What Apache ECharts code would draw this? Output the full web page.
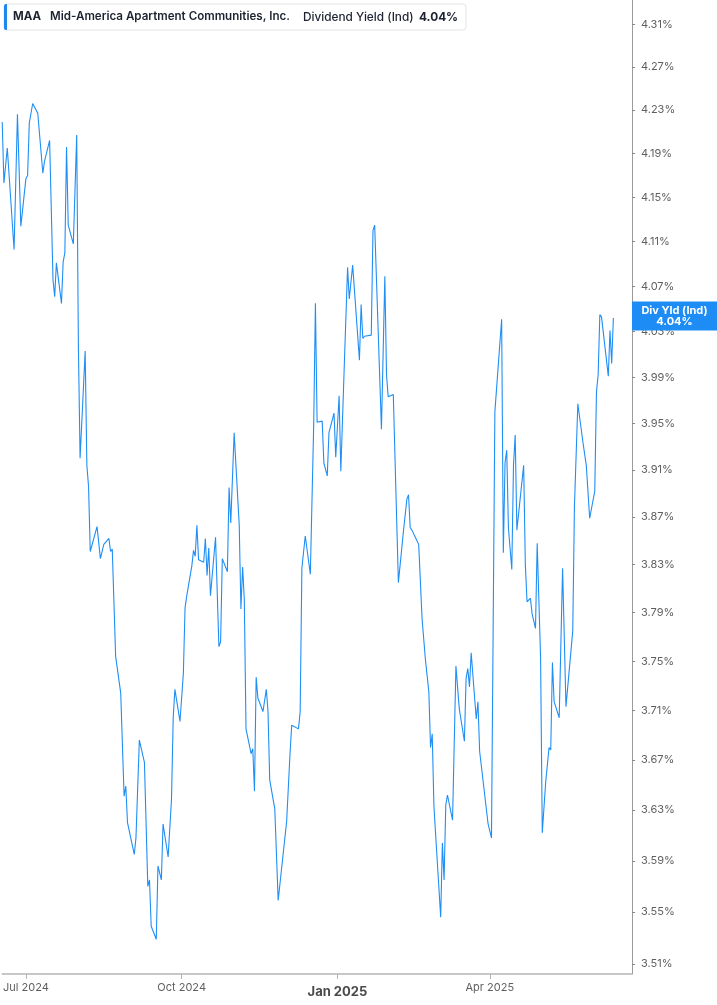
<!DOCTYPE html>
<html>
<head>
<meta charset="utf-8">
<script src="https://cdn.jsdelivr.net/npm/echarts@6/dist/echarts.min.js"></script>
<style>
html,body{margin:0;padding:0;background:#fff;}
#chart{width:717px;height:1005px;}
</style>
</head>
<body>
<div id="chart"></div>
<script>
const dates = [
'2024-06-17','2024-06-18','2024-06-20','2024-06-24','2024-06-26','2024-06-28','2024-07-01','2024-07-02','2024-07-03','2024-07-05',
'2024-07-08','2024-07-09','2024-07-11','2024-07-12','2024-07-15','2024-07-17','2024-07-18','2024-07-19','2024-07-22','2024-07-23',
'2024-07-24','2024-07-25','2024-07-26','2024-07-29','2024-07-31','2024-08-01','2024-08-02','2024-08-05','2024-08-06','2024-08-07',
'2024-08-08','2024-08-09','2024-08-12','2024-08-14','2024-08-15','2024-08-16','2024-08-19','2024-08-20','2024-08-21','2024-08-23',
'2024-08-26','2024-08-28','2024-08-29','2024-08-30','2024-09-03','2024-09-04','2024-09-06','2024-09-09','2024-09-11','2024-09-12',
'2024-09-13','2024-09-16','2024-09-17','2024-09-18','2024-09-19','2024-09-20','2024-09-23','2024-09-25','2024-09-26','2024-09-27',
'2024-09-30','2024-10-02','2024-10-03','2024-10-04','2024-10-07','2024-10-08','2024-10-09','2024-10-10','2024-10-11','2024-10-14',
'2024-10-15','2024-10-16','2024-10-17','2024-10-18','2024-10-21','2024-10-23','2024-10-24','2024-10-25','2024-10-28','2024-10-29',
'2024-10-30','2024-11-01','2024-11-04','2024-11-05','2024-11-06','2024-11-07','2024-11-08','2024-11-11','2024-11-12','2024-11-13',
'2024-11-14','2024-11-15','2024-11-18','2024-11-20','2024-11-21','2024-11-22','2024-11-25','2024-11-27','2024-12-02','2024-12-04',
'2024-12-05','2024-12-06','2024-12-09','2024-12-10','2024-12-11','2024-12-12','2024-12-13','2024-12-16','2024-12-18','2024-12-19',
'2024-12-20','2024-12-21','2024-12-23','2024-12-24','2024-12-26','2024-12-27','2024-12-30','2024-12-31','2025-01-02','2025-01-03',
'2025-01-05','2025-01-07','2025-01-08','2025-01-10','2025-01-14','2025-01-15','2025-01-16','2025-01-17','2025-01-21','2025-01-22',
'2025-01-23','2025-01-27','2025-01-29','2025-01-30','2025-01-31','2025-02-01','2025-02-03','2025-02-06','2025-02-09','2025-02-11',
'2025-02-12','2025-02-13','2025-02-14','2025-02-16','2025-02-18','2025-02-19','2025-02-20','2025-02-22','2025-02-24','2025-02-25',
'2025-02-26','2025-02-27','2025-03-01','2025-03-03','2025-03-04','2025-03-05','2025-03-06','2025-03-07','2025-03-10','2025-03-12',
'2025-03-13','2025-03-14','2025-03-17','2025-03-18','2025-03-19','2025-03-20','2025-03-21','2025-03-24','2025-03-25','2025-03-26',
'2025-03-31','2025-04-01','2025-04-02','2025-04-04','2025-04-08','2025-04-09','2025-04-10','2025-04-11','2025-04-12','2025-04-14',
'2025-04-15','2025-04-16','2025-04-17','2025-04-21','2025-04-22','2025-04-23','2025-04-25','2025-04-26','2025-04-28','2025-04-29',
'2025-05-01','2025-05-02','2025-05-04','2025-05-06','2025-05-07','2025-05-08','2025-05-09','2025-05-12','2025-05-14','2025-05-16',
'2025-05-20','2025-05-21','2025-05-23','2025-05-26','2025-05-28','2025-05-30','2025-06-02','2025-06-03','2025-06-04','2025-06-05',
'2025-06-06','2025-06-10','2025-06-11','2025-06-12','2025-06-13'
];
const values = [
4.219,4.163,4.195,4.103,4.226,4.124,4.167,4.170,4.218,4.236,
4.227,4.227,4.172,4.183,4.202,4.076,4.061,4.091,4.055,4.092,
4.100,4.196,4.125,4.108,4.207,4.017,3.920,4.013,3.914,3.896,
3.841,3.841,3.862,3.835,3.835,3.847,3.852,3.841,3.843,3.754,
3.724,3.641,3.649,3.620,3.595,3.608,3.686,3.668,3.570,3.575,
3.539,3.529,3.586,3.586,3.575,3.619,3.593,3.639,3.704,3.727,
3.701,3.740,3.794,3.804,3.829,3.842,3.837,3.863,3.834,3.832,
3.852,3.821,3.844,3.804,3.853,3.762,3.766,3.835,3.824,3.895,
3.865,3.942,3.863,3.793,3.828,3.801,3.695,3.675,3.679,3.645,
3.737,3.720,3.709,3.727,3.709,3.654,3.631,3.559,3.621,3.675,
3.698,3.699,3.695,3.709,3.827,3.828,3.854,3.822,3.950,4.055,
3.951,3.952,3.952,3.916,3.905,3.942,3.959,3.921,3.974,3.909,
3.998,4.087,4.059,4.089,4.005,4.054,4.024,4.026,4.027,4.120,
4.125,3.945,4.079,3.992,3.973,3.974,3.975,3.815,3.858,3.885,
3.889,3.861,3.859,3.853,3.847,3.848,3.785,3.751,3.725,3.680,
3.691,3.633,3.589,3.546,3.604,3.575,3.634,3.642,3.622,3.746,
3.747,3.711,3.685,3.736,3.744,3.729,3.757,3.703,3.717,3.677,
3.619,3.620,3.608,3.960,4.041,3.840,3.916,3.927,3.861,3.826,
3.914,3.940,3.859,3.914,3.830,3.799,3.802,3.789,3.777,3.848,
3.753,3.612,3.652,3.680,3.678,3.749,3.717,3.704,3.827,3.713,
3.775,3.879,3.967,3.934,3.914,3.869,3.892,3.977,3.992,4.045,
4.043,3.991,4.031,4.002,4.042
];
const yTicks = [3.51,3.55,3.59,3.63,3.67,3.71,3.75,3.79,3.83,3.87,3.91,3.95,3.99,4.03,4.07,4.11,4.15,4.19,4.23,4.27,4.31];
const xTicks = ['2024-07-01','2024-10-01','2025-01-01','2025-04-01'];
const monthNames = ['Jan','Feb','Mar','Apr','May','Jun','Jul','Aug','Sep','Oct','Nov','Dec'];
const ticker = 'MAA';
const company = 'Mid-America Apartment Communities, Inc.';
const metric = 'Dividend Yield (Ind)';
const shortMetric = 'Div Yld (Ind)';
const yMin = 3.5023, yMax = 4.3329;
const xMin = '2024-06-17', xMax = '2025-06-24';

function ts(s){ const p = s.split('-').map(Number); return Date.UTC(p[0], p[1]-1, p[2]); }

const lineColor = '#1f8ef5';
const FONT = 'Inter, "Noto Sans", sans-serif';
const chart = echarts.init(document.getElementById('chart'), null, {renderer:'canvas'});
const seriesData = dates.map((d,i)=>[ts(d), Math.log(values[i])]);

chart.setOption({
  animation:false,
  grid:{left:0,right:85,top:0,bottom:31,containLabel:false},
  xAxis:{
    type:'value', min:ts(xMin), max:ts(xMax),
    axisLine:{show:true,lineStyle:{color:'#b5b5b5',width:1.5}},
    axisTick:{show:true,length:5,lineStyle:{color:'#b5b5b5'},customValues:xTicks.map(ts)},
    splitLine:{show:false},
    axisLabel:{
      customValues:xTicks.map(ts), margin:8, color:'#5f5f5f', fontSize:11, fontFamily:FONT,
      formatter:function(v){
        const d=new Date(v); const t=monthNames[d.getUTCMonth()]+' '+d.getUTCFullYear();
        return d.getUTCMonth()===0 ? '{b|'+t+'}' : t;
      },
      rich:{b:{fontWeight:'bold',fontSize:13,color:'#4a4a4a',fontFamily:FONT,padding:[4,0,0,0]}}
    }
  },
  yAxis:{
    type:'value', position:'right', min:Math.log(yMin), max:Math.log(yMax),
    axisLine:{show:true,lineStyle:{color:'#9a9a9a',width:1}},
    axisTick:{show:true,length:3,lineStyle:{color:'#888'},customValues:yTicks.map(Math.log)},
    splitLine:{show:false},
    axisLabel:{
      customValues:yTicks.map(Math.log), margin:9, color:'#5f5f5f', fontSize:11, fontFamily:FONT,
      formatter:function(v){ return Math.exp(v).toFixed(2)+'%'; }
    }
  },
  series:[{
    type:'line', data:seriesData, showSymbol:false, symbol:'none',
    lineStyle:{color:lineColor,width:1.1}, clip:true
  }]
});

const last = seriesData[seriesData.length-1];
const pt = chart.convertToPixel({xAxisIndex:0,yAxisIndex:0}, last);
const by = pt[1] - 2;
chart.setOption({
  graphic:[
    {type:'rect', z:100, shape:{x:4,y:4,width:462,height:26,r:3}, style:{fill:'#fff',stroke:'#e4e4e4',lineWidth:1}},
    {type:'rect', z:101, shape:{x:4,y:4,width:3,height:26,r:[2,0,0,2]}, style:{fill:'#1e88f0'}},
    {type:'text', z:102, x:13, y:17, style:{text:ticker,fill:'#1d2230',font:'bold 11.5px '+FONT,verticalAlign:'middle'}},
    {type:'text', z:102, x:50, y:17, style:{text:company,fill:'#1d2230',font:'600 11.6px '+FONT,verticalAlign:'middle'}},
    {type:'text', z:102, x:303, y:17, style:{text:metric,fill:'#1d2230',font:'500 11.8px '+FONT,verticalAlign:'middle'}},
    {type:'text', z:102, x:419, y:17, style:{text:values[values.length-1].toFixed(2)+'%',fill:'#1d2230',font:'bold 11.8px '+FONT,verticalAlign:'middle'}},
    {type:'rect', z:100, shape:{x:632,y:by-14.5,width:85,height:29}, style:{fill:'#1e8cf5'}},
    {type:'text', z:101, x:674.5, y:by-5, style:{text:shortMetric,fill:'#fff',font:'bold 11px '+FONT,align:'center',verticalAlign:'middle'}},
    {type:'text', z:101, x:674.5, y:by+6, style:{text:values[values.length-1].toFixed(2)+'%',fill:'#fff',font:'bold 11px '+FONT,align:'center',verticalAlign:'middle'}}
  ]
});
</script>
</body>
</html>
